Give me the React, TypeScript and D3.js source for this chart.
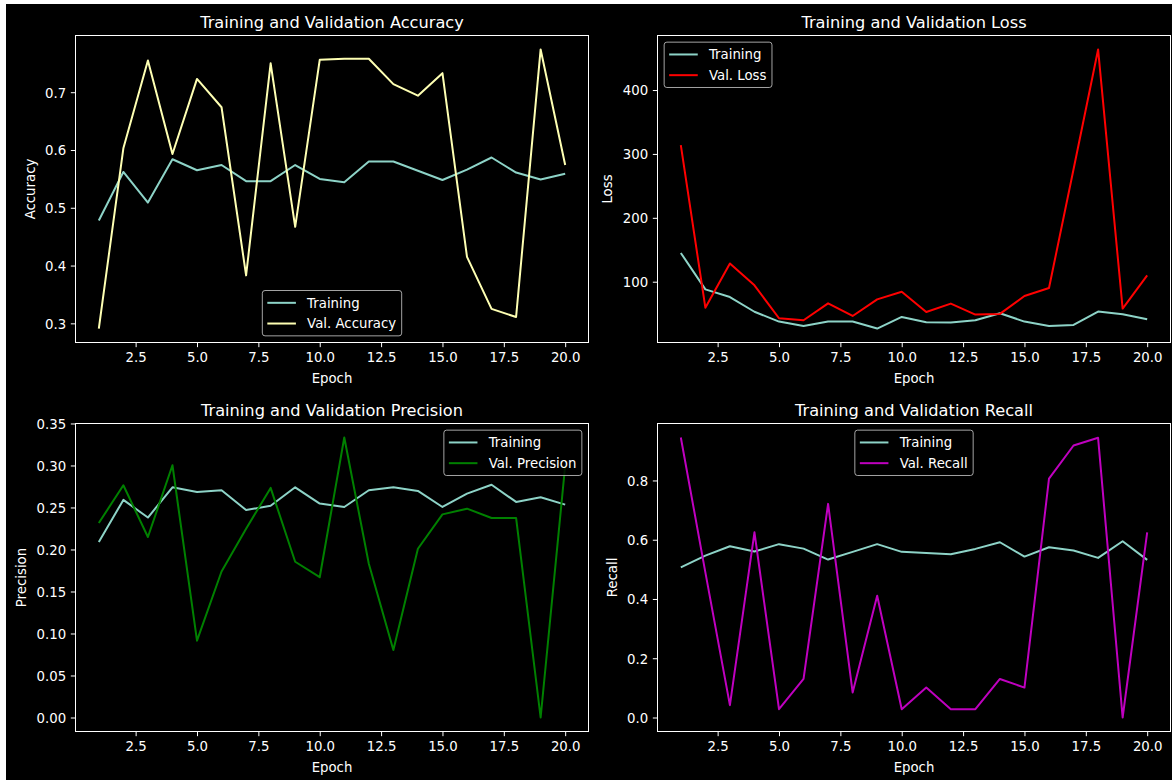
import React, { useEffect, useRef } from 'react';
import * as d3 from 'd3';

const epochs = [1, 2, 3, 4, 5, 6, 7, 8, 9, 10, 11, 12, 13, 14, 15, 16, 17, 18, 19, 20];

const trainAccuracy = [0.478, 0.562, 0.509, 0.584, 0.565, 0.574, 0.546, 0.546, 0.574, 0.55, 0.544, 0.58, 0.58, 0.564, 0.548, 0.566, 0.587, 0.561, 0.549, 0.559];
const valAccuracy = [0.291, 0.603, 0.755, 0.593, 0.723, 0.674, 0.383, 0.75, 0.467, 0.756, 0.758, 0.758, 0.714, 0.694, 0.733, 0.415, 0.325, 0.311, 0.774, 0.574];

const trainLoss = [145, 88, 76, 53, 37.6, 30.8, 37.6, 37.6, 26.7, 44.9, 36.6, 36, 39.7, 50.6, 37.6, 30.8, 32.4, 53.2, 49, 41.2];
const valLoss = [313.7, 59.4, 128.6, 94.3, 42.8, 39.7, 66.2, 46.4, 72.4, 84.4, 52.7, 65.7, 48.5, 49.6, 77.6, 90.1, 276, 463.5, 57.9, 109.9];

const trainPrecision = [0.209, 0.259, 0.238, 0.274, 0.2685, 0.2705, 0.247, 0.252, 0.274, 0.2546, 0.2506, 0.2705, 0.274, 0.2697, 0.2506, 0.2665, 0.277, 0.2566, 0.2621, 0.2534];
const valPrecision = [0.2315, 0.2765, 0.2148, 0.3003, 0.0915, 0.1738, 0.2247, 0.2733, 0.1854, 0.167, 0.3333, 0.183, 0.0804, 0.2009, 0.2418, 0.2486, 0.2375, 0.2375, 0.0, 0.3];

const trainRecall = [0.507, 0.5465, 0.578, 0.56, 0.585, 0.57, 0.533, 0.559, 0.585, 0.559, 0.5555, 0.551, 0.569, 0.5915, 0.543, 0.5746, 0.5634, 0.5386, 0.595, 0.532];
const valRecall = [0.945, 0.49, 0.0417, 0.625, 0.028, 0.13, 0.721, 0.0845, 0.411, 0.028, 0.101, 0.028, 0.028, 0.13, 0.101, 0.806, 0.918, 0.944, 0.0, 0.625];

const xTicks = [2.5, 5, 7.5, 10, 12.5, 15, 17.5, 20];
const accuracyTicks = [0.3, 0.4, 0.5, 0.6, 0.7];
const lossTicks = [100, 200, 300, 400];
const precisionTicks = [0, 0.05, 0.1, 0.15, 0.2, 0.25, 0.3, 0.35];
const recallTicks = [0, 0.2, 0.4, 0.6, 0.8];

const titles = [
  'Training and Validation Accuracy',
  'Training and Validation Loss',
  'Training and Validation Precision',
  'Training and Validation Recall',
];
const yLabels = ['Accuracy', 'Loss', 'Precision', 'Recall'];
const valNames = ['Val. Accuracy', 'Val. Loss', 'Val. Precision', 'Val. Recall'];

const TRAIN_COLOR = '#8dd3c7';
const valColors = ['#feffb3', '#ff0000', '#008000', '#bf00bf'];

const FONT = '"DejaVu Sans", sans-serif';
const FS = 13.3;
const TFS = 16.2;

function measure(text: string, size: number) {
  const ctx = document.createElement('canvas').getContext('2d')!;
  ctx.font = `${size}px "DejaVu Sans"`;
  return ctx.measureText(text).width;
}

export default function App() {
  const ref = useRef<SVGSVGElement>(null);

  useEffect(() => {
    const svg = d3.select(ref.current);
    svg.selectAll('*').remove();
    svg.append('rect').attr('width', 1172).attr('height', 780).attr('fill', '#ffffff');
    svg.append('rect').attr('x', 6).attr('y', 4).attr('width', 1166).attr('height', 776).attr('fill', '#000000');

    const panels = [
      { left: 75.5, right: 588.5, top: 35.5, bottom: 342.5, train: trainAccuracy, val: valAccuracy, ticks: accuracyTicks, fmt: '.1f', loc: 'lower center' },
      { left: 657.5, right: 1170.5, top: 35.5, bottom: 342.5, train: trainLoss, val: valLoss, ticks: lossTicks, fmt: 'd', loc: 'upper left' },
      { left: 75.5, right: 588.5, top: 423.5, bottom: 731.5, train: trainPrecision, val: valPrecision, ticks: precisionTicks, fmt: '.2f', loc: 'upper right' },
      { left: 657.5, right: 1170.5, top: 423.5, bottom: 731.5, train: trainRecall, val: valRecall, ticks: recallTicks, fmt: '.1f', loc: 'upper center' },
    ];

    const TL = 4.67;
    const TP = 4.67;

    panels.forEach((p, i) => {
      const x = d3.scaleLinear().domain([0.05, 20.95]).range([p.left, p.right]);
      const all = [...p.train, ...p.val];
      const mn = d3.min(all)!;
      const mx = d3.max(all)!;
      const pad = (mx - mn) * 0.05;
      const y = d3.scaleLinear().domain([mn - pad, mx + pad]).range([p.bottom, p.top]);

      const clipId = `clip-${i}`;
      svg.append('clipPath').attr('id', clipId).append('rect')
        .attr('x', p.left).attr('y', p.top).attr('width', p.right - p.left).attr('height', p.bottom - p.top);

      const g = svg.append('g');
      const line = d3.line<number>().x((_, j) => x(epochs[j])).y((d) => y(d));

      g.append('path').datum(p.train).attr('d', line).attr('fill', 'none')
        .attr('stroke', TRAIN_COLOR).attr('stroke-width', 2).attr('stroke-linejoin', 'round')
        .attr('clip-path', `url(#${clipId})`);
      g.append('path').datum(p.val).attr('d', line).attr('fill', 'none')
        .attr('stroke', valColors[i]).attr('stroke-width', 2).attr('stroke-linejoin', 'round')
        .attr('clip-path', `url(#${clipId})`);

      // spines
      g.append('rect').attr('x', p.left).attr('y', p.top).attr('width', p.right - p.left)
        .attr('height', p.bottom - p.top).attr('fill', 'none').attr('stroke', '#ffffff').attr('stroke-width', 1);

      // x axis
      const gx = g.append('g').attr('transform', `translate(0,${p.bottom})`)
        .call(d3.axisBottom(x).tickValues(xTicks).tickFormat(d3.format('.1f')).tickSize(TL).tickPadding(TP));
      gx.select('.domain').remove();
      gx.attr('font-family', FONT).attr('font-size', FS);
      gx.selectAll('line').attr('stroke', '#ffffff');
      gx.selectAll('text').attr('fill', '#ffffff').attr('dy', '0.76em');

      // y axis
      const gy = g.append('g').attr('transform', `translate(${p.left},0)`)
        .call(d3.axisLeft(y).tickValues(p.ticks).tickFormat(d3.format(p.fmt)).tickSize(TL).tickPadding(TP));
      gy.select('.domain').remove();
      gy.attr('font-family', FONT).attr('font-size', FS);
      gy.selectAll('line').attr('stroke', '#ffffff');
      gy.selectAll('text').attr('fill', '#ffffff').attr('dy', '0.36em');

      const fmt = d3.format(p.fmt);
      const maxW = d3.max(p.ticks, (t) => measure(fmt(t), FS))!;

      // title
      g.append('text').attr('x', (p.left + p.right) / 2).attr('y', p.top - 8)
        .attr('text-anchor', 'middle').attr('fill', '#ffffff')
        .attr('font-family', FONT).attr('font-size', TFS).text(titles[i]);

      // x label
      g.append('text').attr('x', (p.left + p.right) / 2).attr('y', p.bottom + TL + TP + FS * 0.97 + 5.33 + FS * 0.76 + 2.5)
        .attr('text-anchor', 'middle').attr('fill', '#ffffff')
        .attr('font-family', FONT).attr('font-size', FS).text('Epoch');

      // y label
      const ylx = p.left - TL - TP - maxW - 5.33 - FS * 0.236 - 2;
      const yly = (p.top + p.bottom) / 2;
      g.append('text').attr('transform', `translate(${ylx},${yly}) rotate(-90)`)
        .attr('text-anchor', 'middle').attr('fill', '#ffffff')
        .attr('font-family', FONT).attr('font-size', FS).text(yLabels[i]);

      // legend
      const labels = ['Training', valNames[i]];
      const colors = [TRAIN_COLOR, valColors[i]];
      const bp = 0.4 * FS;
      const handleStart = 5;
      const handleLen = 28.6;
      const textStart = 44.8;
      const textW = d3.max(labels, (l) => measure(l, FS))!;
      const boxW = textStart + textW + 5.5;
      const rowH = 14;
      const rowGap = 6.7;
      const boxH = 2 * bp + 2 * rowH + rowGap;
      const ba = 0.5 * FS;
      let bx = 0;
      let by = 0;
      const cx = (p.left + p.right) / 2;
      if (p.loc === 'lower center') { bx = cx - boxW / 2; by = p.bottom - ba - boxH; }
      if (p.loc === 'upper left') { bx = p.left + ba; by = p.top + ba; }
      if (p.loc === 'upper right') { bx = p.right - ba - boxW; by = p.top + ba; }
      if (p.loc === 'upper center') { bx = cx - boxW / 2; by = p.top + ba; }

      const lg = g.append('g');
      lg.append('rect').attr('x', bx).attr('y', by).attr('width', boxW).attr('height', boxH)
        .attr('rx', 2.7).attr('ry', 2.7)
        .attr('fill', '#000000').attr('fill-opacity', 0.8)
        .attr('stroke', '#cccccc').attr('stroke-opacity', 0.8).attr('stroke-width', 1);
      labels.forEach((l, k) => {
        const cy = by + bp + rowH / 2 + k * (rowH + rowGap);
        lg.append('line').attr('x1', bx + handleStart).attr('x2', bx + handleStart + handleLen)
          .attr('y1', cy).attr('y2', cy).attr('stroke', colors[k]).attr('stroke-width', 2);
        lg.append('text').attr('x', bx + textStart).attr('y', cy + FS * 0.36)
          .attr('fill', '#ffffff').attr('font-family', FONT).attr('font-size', FS).text(l);
      });
    });
  }, []);

  return (
    <svg
      ref={ref}
      width={1172}
      height={780}
      style={{ position: 'absolute', left: 0, top: 0, display: 'block' }}
    />
  );
}
